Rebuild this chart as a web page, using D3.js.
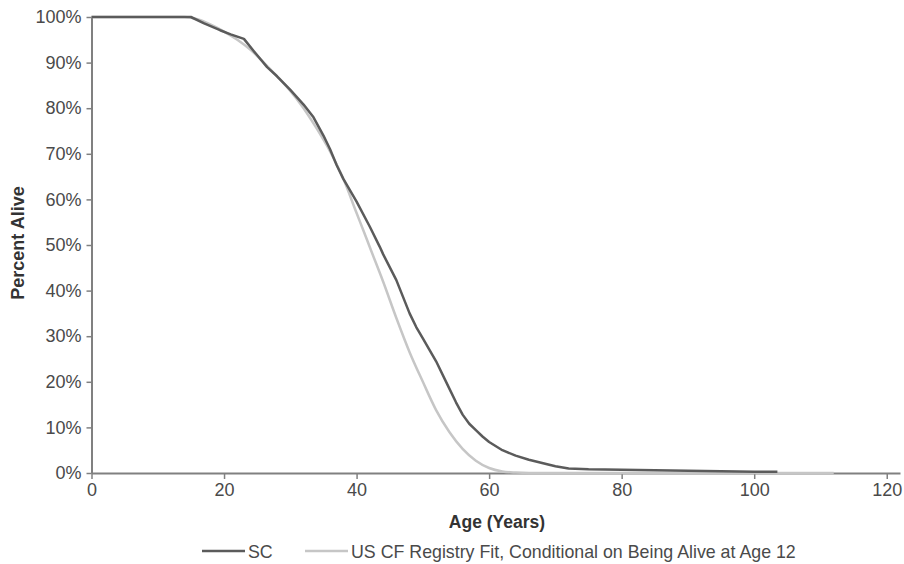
<!DOCTYPE html>
<html>
<head>
<meta charset="utf-8">
<script src="https://cdn.jsdelivr.net/npm/d3@7"></script>
<style>
  body { margin: 0; background: #fff; }
  svg { display: block; font-family: "Liberation Sans", Arial, sans-serif; }
</style>
</head>
<body>
<svg id="chart"></svg>
<script>
// Ages (years) and percent alive
const scAges = [0, 15, 17, 19.4, 21, 23, 24.5, 26.5, 28, 30, 32, 33.5, 35, 36, 37, 38, 40, 42, 43.5, 44, 46, 48, 49, 50, 52, 54, 55, 56, 57, 58, 59, 60, 62, 64, 66, 68, 70, 72, 75, 80, 90, 100, 103.5];
const scValues = [100, 100, 98.6, 97.1, 96.2, 95.2, 92.5, 89, 87, 84, 80.8, 78, 74, 71, 67.5, 64.5, 59.5, 54, 49.6, 48, 42.3, 35, 32, 29.5, 24.5, 18.5, 15.5, 12.8, 10.8, 9.4, 8, 6.8, 5, 3.8, 2.9, 2.2, 1.5, 1.0, 0.8, 0.7, 0.5, 0.3, 0.25];

const fitAges = [0, 14, 16, 18, 20, 22, 24, 26, 28, 30, 32, 34, 36, 38, 40, 41, 42, 44, 46, 48, 50, 52, 54, 56, 58, 60, 62, 64, 66, 112];
const fitValues = [100, 100, 99.5, 98.3, 96.8, 95, 92.8, 90, 87, 83.8, 80, 75.5, 70.5, 64.5, 57, 53.3, 49.5, 42, 34, 26.5, 20, 13.8, 9, 5.3, 2.7, 1.1, 0.35, 0.1, 0, 0];

const xTicks = [0, 20, 40, 60, 80, 100, 120];
const yTicks = [0, 10, 20, 30, 40, 50, 60, 70, 80, 90, 100];

const seriesNames = ["SC", "US CF Registry Fit, Conditional on Being Alive at Age 12"];
const seriesColors = ["#5b5b5b", "#c6c6c6"];

const width = 904, height = 564;
const svg = d3.select("#chart").attr("width", width).attr("height", height);

// scales - x runs a bit past 120 so the axis line overhangs like the original
let x = d3.scaleLinear().domain([0, 122]).range([91.5, 900]);
let y = d3.scaleLinear().domain([0, 100]).range([473, 17]);

const axisColor = "#808080";
const textColor = "#4a4a4a";

// y axis
let yAxis = svg.append("g")
  .attr("transform", `translate(${x(0)},0)`)
  .call(d3.axisLeft(y).tickValues(yTicks).tickSize(5).tickSizeOuter(0).tickPadding(5)
    .tickFormat(d => d + "%"));

// x axis
let xAxis = svg.append("g")
  .attr("transform", `translate(0,${y(0)})`)
  .call(d3.axisBottom(x).tickValues(xTicks).tickSize(6).tickSizeOuter(0).tickPadding(4));

[xAxis, yAxis].forEach(g => {
  g.select(".domain").attr("stroke", axisColor).attr("stroke-width", 2);
  g.selectAll(".tick line").attr("stroke", axisColor).attr("stroke-width", 1.5);
  g.selectAll(".tick text").attr("fill", textColor).style("font-size", "18px");
});

// lines
const scLine = d3.line().x(d => x(d[0])).y(d => y(d[1]));
const fitLine = d3.line().x(d => x(d[0])).y(d => y(d[1])).curve(d3.curveMonotoneX);

const fitData = fitAges.map((a, i) => [a, fitValues[i]]);
const scData = scAges.map((a, i) => [a, scValues[i]]);

svg.append("path")
  .datum(fitData)
  .attr("d", fitLine)
  .attr("fill", "none")
  .attr("stroke", seriesColors[1])
  .attr("stroke-width", 2.5)
  .attr("stroke-linejoin", "round");

svg.append("path")
  .datum(scData)
  .attr("d", scLine)
  .attr("fill", "none")
  .attr("stroke", seriesColors[0])
  .attr("stroke-width", 2.5)
  .attr("stroke-linejoin", "round");

// axis titles
svg.append("text")
  .attr("x", 497)
  .attr("y", 528)
  .attr("text-anchor", "middle")
  .attr("fill", "#333")
  .style("font-size", "17.5px")
  .style("font-weight", "bold")
  .text("Age (Years)");

svg.append("text")
  .attr("transform", "translate(24,243) rotate(-90)")
  .attr("text-anchor", "middle")
  .attr("fill", "#333")
  .style("font-size", "18px")
  .style("font-weight", "bold")
  .text("Percent Alive");

// legend
const legendX = [202, 305];
const legend = svg.append("g");
seriesNames.forEach((name, i) => {
  legend.append("line")
    .attr("x1", legendX[i]).attr("x2", legendX[i] + 43)
    .attr("y1", 551).attr("y2", 551)
    .attr("stroke", seriesColors[i])
    .attr("stroke-width", 2.5);
  legend.append("text")
    .attr("x", legendX[i] + 46)
    .attr("y", 557.5)
    .attr("fill", textColor)
    .style("font-size", "17.8px")
    .text(name);
});
</script>
</body>
</html>
